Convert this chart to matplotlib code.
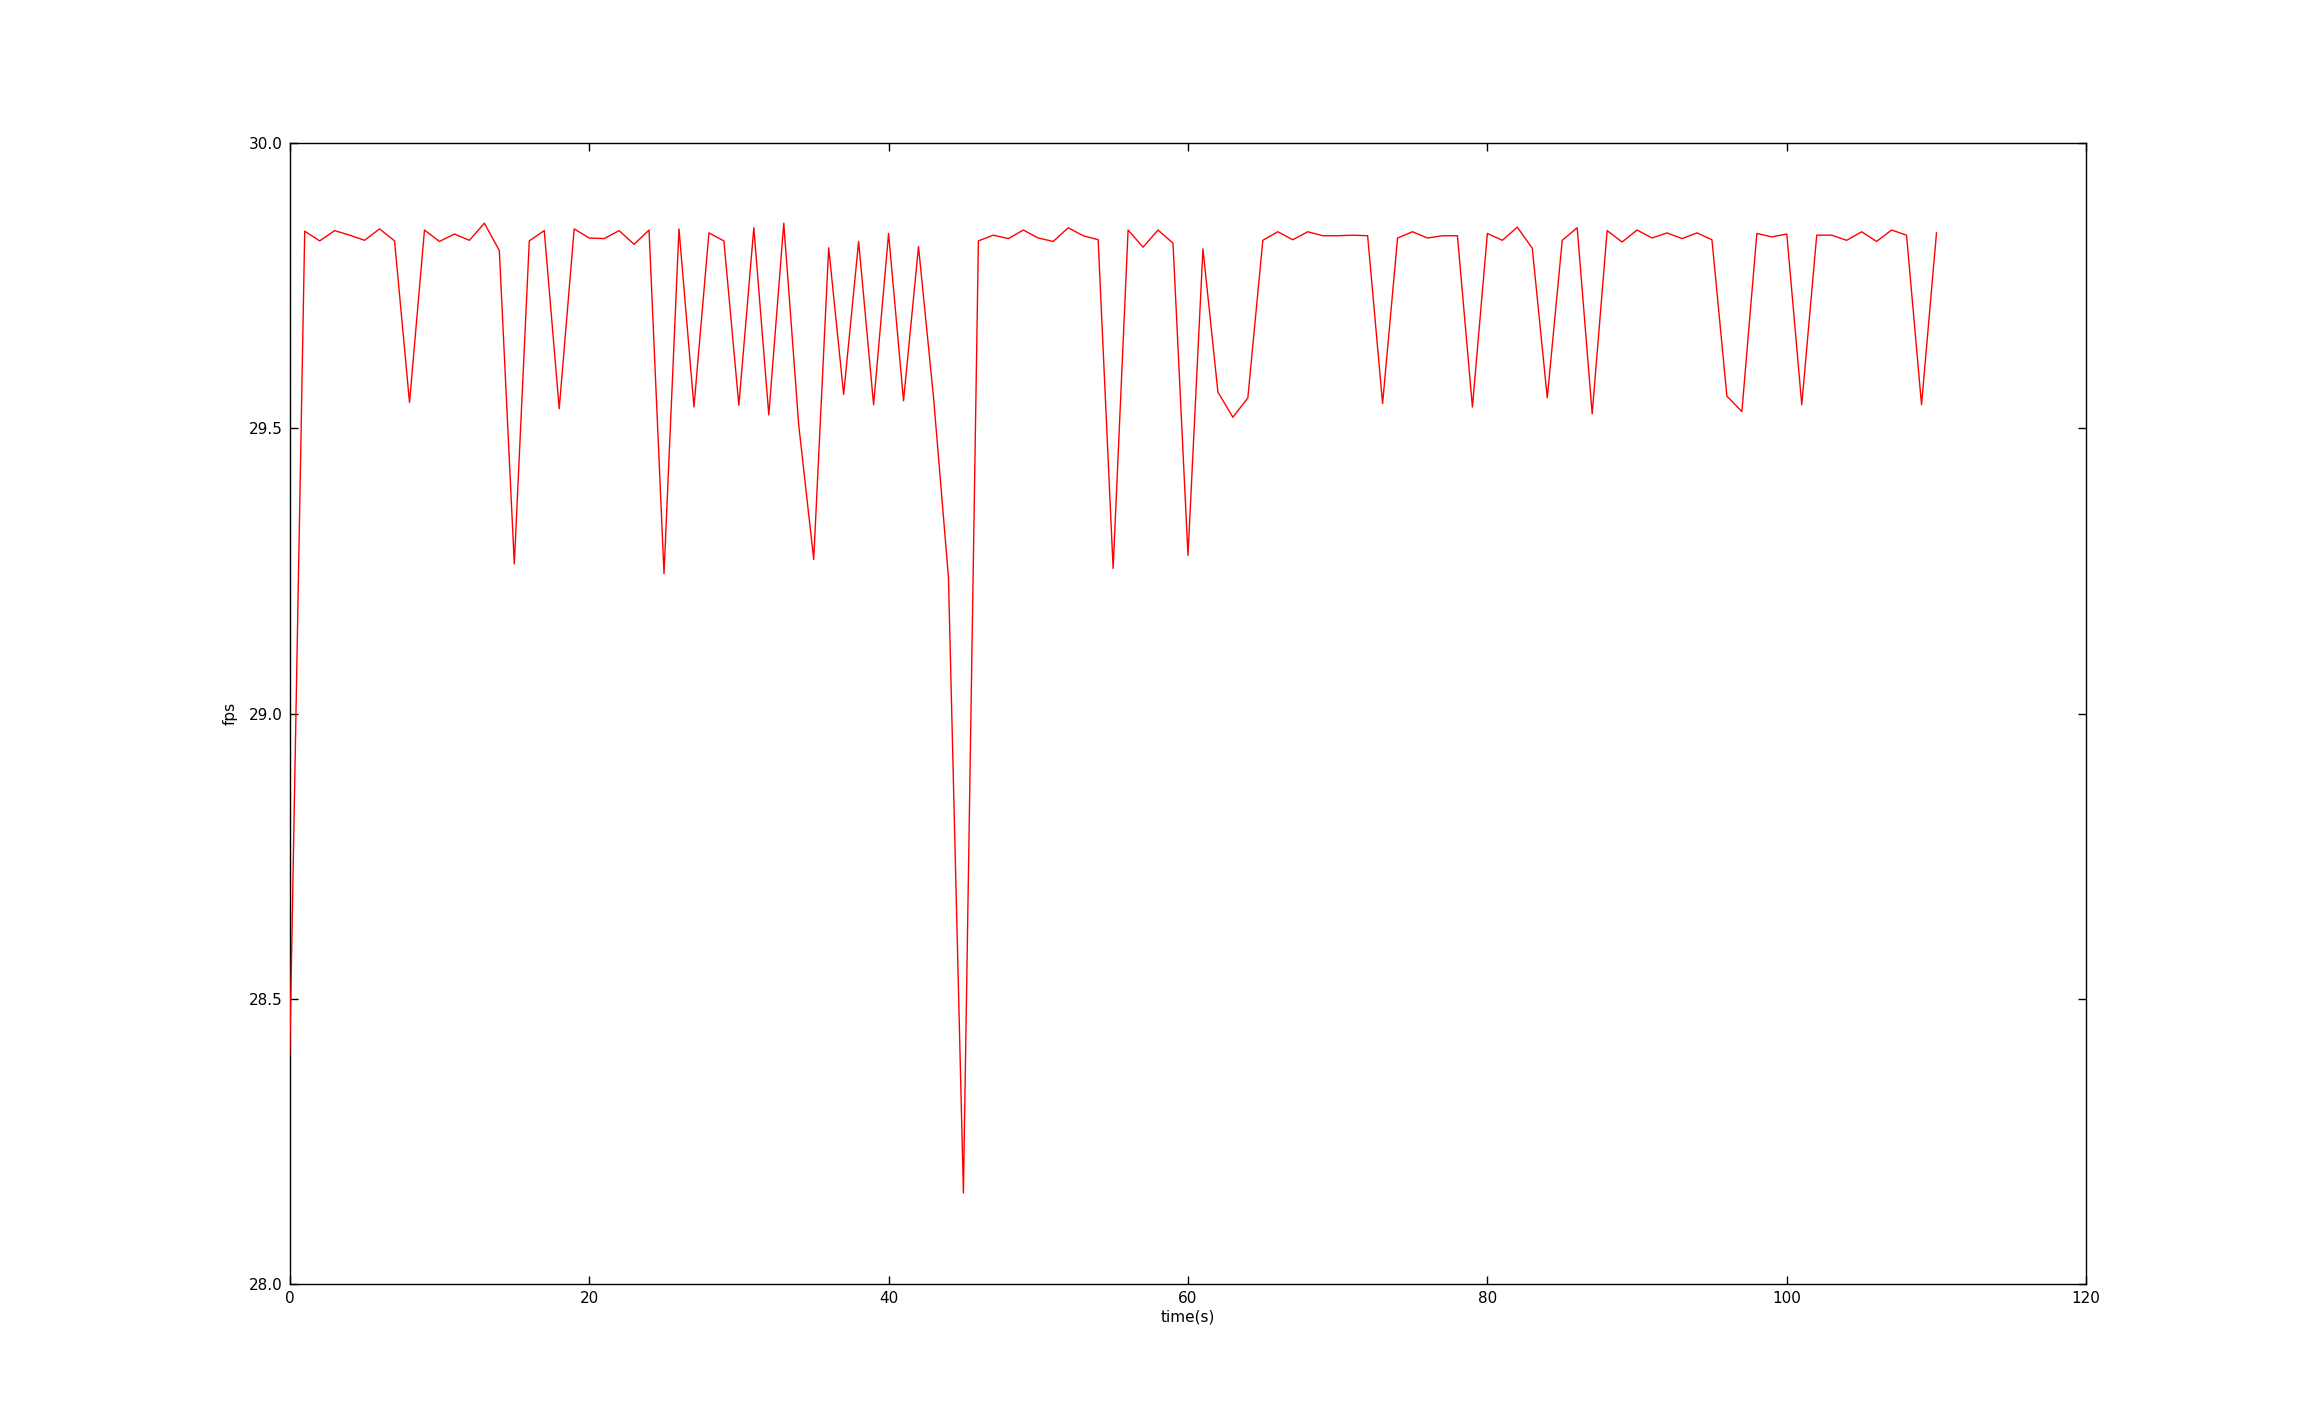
import matplotlib
matplotlib.use('Agg')
import matplotlib.pyplot as plt
import numpy as np

# fps per second
fps = [
    28.40, 29.845, 29.828, 29.846, 29.838, 29.829, 29.849, 29.828, 29.545, 29.847,
    29.827, 29.840, 29.829, 29.859, 29.811, 29.262, 29.828, 29.846, 29.534, 29.849,
    29.833, 29.832, 29.846, 29.822, 29.847, 29.245, 29.849, 29.537, 29.842, 29.828,
    29.540, 29.851, 29.523, 29.859, 29.505, 29.270, 29.816, 29.559, 29.827, 29.541,
    29.841, 29.548, 29.818, 29.555, 29.239, 28.160, 29.828, 29.838, 29.832, 29.847,
    29.833, 29.827, 29.851, 29.837, 29.830, 29.254, 29.847, 29.817, 29.847, 29.824,
    29.277, 29.814, 29.563, 29.519, 29.553, 29.829, 29.844, 29.830, 29.844, 29.837,
    29.837, 29.838, 29.837, 29.543, 29.833, 29.844, 29.833, 29.837, 29.837, 29.537,
    29.841, 29.829, 29.852, 29.815, 29.553, 29.829, 29.851, 29.525, 29.846, 29.826,
    29.847, 29.833, 29.842, 29.832, 29.842, 29.830, 29.556, 29.529, 29.841, 29.835,
    29.840, 29.541, 29.838, 29.838, 29.829, 29.844, 29.827, 29.847, 29.838, 29.541,
    29.842,
]
t = np.arange(len(fps))

plt.rcParams['font.family'] = ['DejaVu Sans']
plt.rcParams['font.size'] = 11

fig = plt.figure(figsize=(23.18, 14.27), dpi=100)
fig.subplots_adjust(left=0.125, right=0.9, bottom=0.1, top=0.9)
ax = fig.add_subplot(111)

# line drawn above the spines, like old matplotlib did
ax.plot(t, fps, 'r-', linewidth=1.0, zorder=3)

ax.set_xlim(0, 120)
ax.set_ylim(28.0, 30.0)
ax.set_xticks(np.arange(0, 121, 20))
ax.set_yticks(np.arange(28.0, 30.01, 0.5))
ax.yaxis.set_major_formatter(matplotlib.ticker.FormatStrFormatter('%.1f'))
ax.tick_params(direction='in', top=True, right=True, length=5.5, width=1, pad=5)
for s in ax.spines.values():
    s.set_linewidth(1.0)

ax.set_xlabel('time(s)', labelpad=2)
ax.set_ylabel('fps', labelpad=8)

fig.savefig('out.png', dpi=100)
